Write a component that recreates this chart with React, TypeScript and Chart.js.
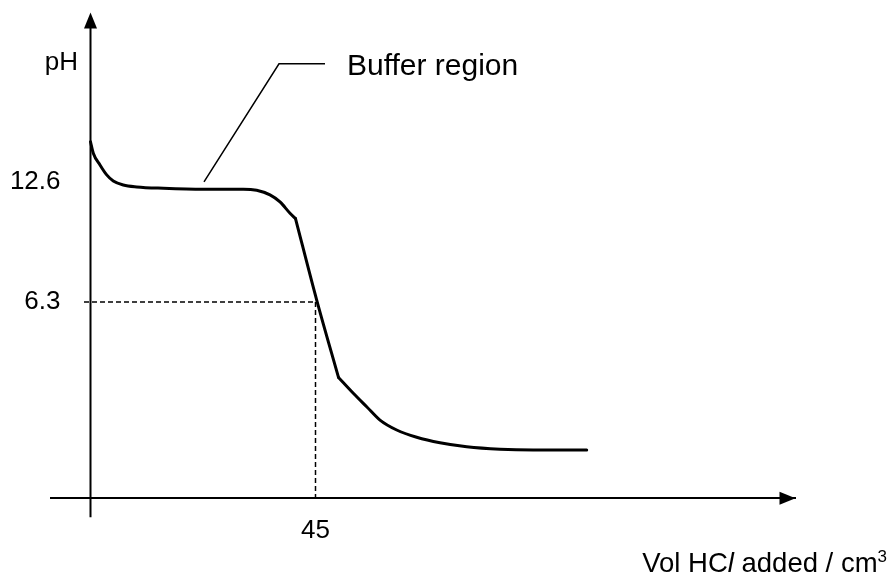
import React, { useEffect, useRef } from "react";
import { Chart, registerables } from "chart.js";

Chart.register(...registerables);

// Titration curve (volume of HCl in cm³, pH on the labelled scale)
const volumes = [0, 0.56, 1.9, 3.24, 4.56, 6.56, 9.24, 14.56, 22.56, 30.56, 33.24, 35.9, 37.9, 39.9, 41.0, 45.24, 49.6, 52.56, 55.24, 57.9, 61.24, 65.24, 69.9, 75.24, 81.9, 88.56, 99.24];
const pHValues = [14.71, 14.11, 13.49, 12.97, 12.65, 12.44, 12.34, 12.27, 12.22, 12.22, 12.16, 11.92, 11.55, 10.96, 10.68, 6.4, 2.34, 1.51, 0.8, 0.1, -0.42, -0.8, -1.09, -1.3, -1.43, -1.47, -1.47];
// Indices where the sketched curve has sharp corners
const cornerIndices = [14, 16];

// Tick labels
const yTickValues = [6.3, 12.6];
const xTickValues = [45];

// Half-equivalence guide
const halfVolume = 45;
const halfPH = 6.3;

// Buffer region leader line
const leaderX = [22.7, 37.7, 46.9];
const leaderY = [12.6, 18.8, 18.8];

// Axis ranges
const X_MIN = -8;
const X_MAX = 141;
const Y_MIN = -5;
const Y_MAX = 21.5;
const X_AXIS_AT = -4;
const Y_AXIS_AT = 0;
const Y_LABEL_AT = -6;

const FONT = "'Liberation Sans', Arial, Helvetica, sans-serif";

const zeroPadding = (scale: any) => {
  scale.paddingTop = 0;
  scale.paddingBottom = 0;
  scale.paddingLeft = 0;
  scale.paddingRight = 0;
};

const decorations = {
  id: "decorations",
  afterDraw(chart: any) {
    const ctx = chart.ctx as CanvasRenderingContext2D;
    const xs = chart.scales.x;
    const ys = chart.scales.y;
    const area = chart.chartArea;
    const ax = xs.getPixelForValue(Y_AXIS_AT);
    const ay = ys.getPixelForValue(X_AXIS_AT);
    ctx.save();
    // y-axis line
    ctx.strokeStyle = "#000";
    ctx.lineWidth = 2;
    ctx.beginPath();
    ctx.moveTo(ax, area.top + 4);
    ctx.lineTo(ax, area.bottom);
    ctx.stroke();
    ctx.fillStyle = "#000";
    // y-axis arrow head
    ctx.beginPath();
    ctx.moveTo(ax, area.top);
    ctx.lineTo(ax - 6.5, area.top + 16);
    ctx.lineTo(ax + 6.5, area.top + 16);
    ctx.closePath();
    ctx.fill();
    // x-axis arrow head
    ctx.beginPath();
    ctx.moveTo(area.right, ay);
    ctx.lineTo(area.right - 16, ay - 6.5);
    ctx.lineTo(area.right - 16, ay + 6.5);
    ctx.closePath();
    ctx.fill();

    // pH label
    ctx.textBaseline = "alphabetic";
    ctx.textAlign = "right";
    ctx.font = `26px ${FONT}`;
    ctx.fillText("pH", xs.getPixelForValue(-2.5), ys.getPixelForValue(18.5));

    // Buffer region label
    ctx.textAlign = "left";
    ctx.font = `30px ${FONT}`;
    ctx.fillText("Buffer region", xs.getPixelForValue(51.3), ys.getPixelForValue(18.2));

    // x-axis title with italic l and superscript 3
    const parts = [
      { t: "Vol HC", f: `27.5px ${FONT}`, dy: 0 },
      { t: "l", f: `italic 27.5px ${FONT}`, dy: 0 },
      { t: " added / cm", f: `27.5px ${FONT}`, dy: 0 },
      { t: "3", f: `17px ${FONT}`, dy: -10 },
    ];
    let total = 0;
    for (const p of parts) {
      ctx.font = p.f;
      total += ctx.measureText(p.t).width;
    }
    let x = chart.width - 6 - total;
    const base = chart.height - 11;
    for (const p of parts) {
      ctx.font = p.f;
      ctx.fillText(p.t, x, base + p.dy);
      x += ctx.measureText(p.t).width;
    }
    ctx.restore();
  },
};

function curvePiece(from: number, to: number) {
  const pts = [];
  for (let i = from; i <= to; i++) pts.push({ x: volumes[i], y: pHValues[i] });
  return {
    data: pts,
    showLine: true,
    borderColor: "#000",
    borderWidth: 3,
    borderCapStyle: "round" as const,
    borderJoinStyle: "round" as const,
    pointRadius: 0,
    cubicInterpolationMode: "monotone" as const,
  };
}

export default function App() {
  const ref = useRef<HTMLCanvasElement | null>(null);
  useEffect(() => {
    if (!ref.current) return;
    const bounds = [0, ...cornerIndices, volumes.length - 1];
    const pieces = [];
    for (let i = 0; i < bounds.length - 1; i++) pieces.push(curvePiece(bounds[i], bounds[i + 1]));
    const chart = new Chart(ref.current, {
      type: "scatter",
      data: {
        datasets: [
          ...pieces,
          {
            data: [
              { x: -1.3, y: halfPH },
              { x: halfVolume, y: halfPH },
            ],
            showLine: true,
            borderColor: "#000",
            borderWidth: 1.5,
            borderDash: [5, 3],
            pointRadius: 0,
          },
          {
            data: [
              { x: halfVolume, y: halfPH },
              { x: halfVolume, y: X_AXIS_AT },
            ],
            showLine: true,
            borderColor: "#000",
            borderWidth: 1.5,
            borderDash: [5, 3],
            pointRadius: 0,
          },
          {
            data: leaderX.map((v, i) => ({ x: v, y: leaderY[i] })),
            showLine: true,
            borderColor: "#000",
            borderWidth: 1.5,
            pointRadius: 0,
            tension: 0,
          },
        ],
      },
      options: {
        animation: false,
        responsive: true,
        maintainAspectRatio: false,
        devicePixelRatio: 1,
        layout: { padding: { left: 50.5, right: 97.5, top: 12.4, bottom: 65.75 } },
        plugins: { legend: { display: false }, tooltip: { enabled: false }, title: { display: false } },
        scales: {
          x: {
            type: "linear",
            min: X_MIN,
            max: X_MAX,
            position: { y: X_AXIS_AT } as any,
            grid: { display: false, drawTicks: false },
            border: { display: true, color: "#000", width: 2 },
            afterBuildTicks: (scale: any) => {
              scale.ticks = xTickValues.map((v) => ({ value: v }));
            },
            afterFit: zeroPadding,
            ticks: {
              color: "#000",
              font: { family: FONT, size: 26 },
              padding: 17,
              autoSkip: false,
              maxRotation: 0,
              callback: (v: any) => String(v),
            },
          },
          y: {
            type: "linear",
            min: Y_MIN,
            max: Y_MAX,
            position: { x: Y_LABEL_AT } as any,
            grid: { display: false, drawTicks: false },
            border: { display: false },
            afterBuildTicks: (scale: any) => {
              scale.ticks = yTickValues.map((v) => ({ value: v }));
            },
            afterFit: zeroPadding,
            ticks: {
              color: "#000",
              font: { family: FONT, size: 26 },
              padding: 0,
              autoSkip: false,
              callback: (v: any) => String(v),
            },
          },
        },
      },
      plugins: [decorations],
    });
    return () => chart.destroy();
  }, []);
  return (
    <div style={{ position: "absolute", left: 0, top: 0, width: 893, height: 583, background: "#fff" }}>
      <canvas ref={ref} />
    </div>
  );
}
